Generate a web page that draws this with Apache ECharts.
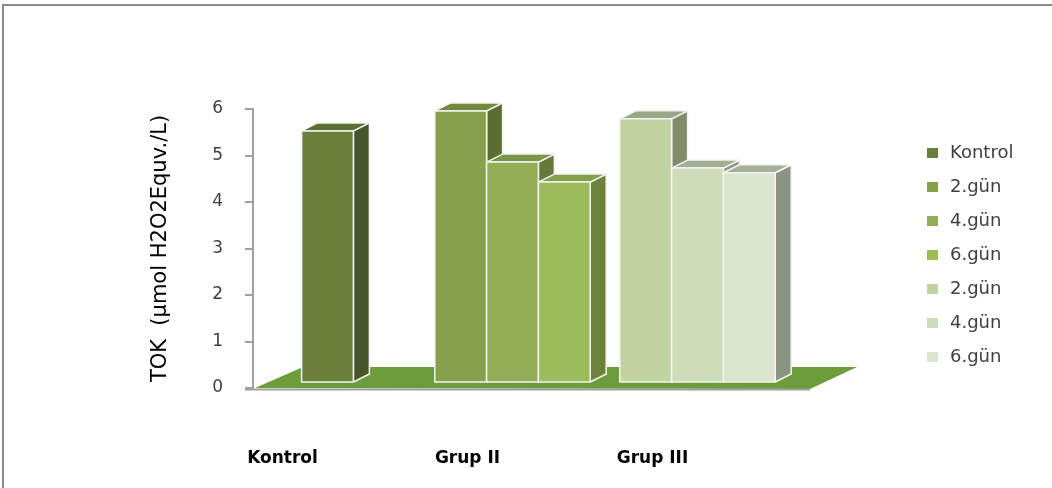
<!DOCTYPE html>
<html>
<head>
<meta charset="utf-8">
<script src="https://cdn.jsdelivr.net/npm/echarts@6/dist/echarts.min.js"></script>
<style>
    html, body { margin: 0; padding: 0; background: #fff; }
    #chart { width: 1052px; height: 488px; }
</style>
</head>
<body>
<div id="chart"></div>
<script>
// data
const categories = ["Kontrol", "Grup II", "Grup III"];
const seriesNames = ["Kontrol", "2.gün", "4.gün", "6.gün", "2.gün", "4.gün", "6.gün"];
const seriesGroup = [0, 1, 1, 1, 2, 2, 2];
const seriesValues = [5.4, 5.83, 4.73, 4.3, 5.66, 4.6, 4.5];
const yTicks = [0, 1, 2, 3, 4, 5, 6];

// colours of each bar: front / top / side
const palette = [
    { front: "#6a803a", top: "#5b6f32", side: "#46552a" },
    { front: "#87a04b", top: "#718a3e", side: "#5a6e31" },
    { front: "#94ae57", top: "#7a9545", side: "#66793a" },
    { front: "#9dbb59", top: "#83a046", side: "#6c823a" },
    { front: "#c1d3a1", top: "#9aa784", side: "#7f8b69" },
    { front: "#cfdcba", top: "#a3ae93", side: "#8c9682" },
    { front: "#dbe4cd", top: "#a6af98", side: "#8b9381" },
];

const FONT = "DejaVu Sans";
const DX = 16, DY = -8, LIFT = 6;

// position of a bar inside its group
function slotOf(i) {
    let n = 0, k = 0;
    seriesGroup.forEach((g, j) => {
        if (g === seriesGroup[i]) {
            if (j < i) k++;
            n++;
        }
    });
    return { k: k, n: n };
}

function makeRender(i) {
    const s = slotOf(i);
    const c = palette[i];
    return function (params, api) {
        const band = api.size([1, 0])[0];
        const w = band * 0.28;
        const base = api.coord([api.value(0), 0]);
        const top = api.coord([api.value(0), api.value(1)]);
        const cx = base[0] + (s.k - (s.n - 1) / 2) * w;
        const x0 = cx - w / 2, x1 = cx + w / 2;
        const yb = base[1] - LIFT, yt = top[1] - LIFT;
        const edge = { stroke: "#f4f4f4", lineWidth: 1.5, lineJoin: "round" };
        return {
            type: "group",
            children: [
                {
                    type: "polygon",
                    shape: { points: [[x1, yt], [x1 + DX, yt + DY], [x1 + DX, yb + DY], [x1, yb]] },
                    style: Object.assign({ fill: c.side }, edge),
                },
                {
                    type: "polygon",
                    shape: { points: [[x0, yt], [x1, yt], [x1 + DX, yt + DY], [x0 + DX, yt + DY]] },
                    style: Object.assign({ fill: c.top }, edge),
                },
                {
                    type: "rect",
                    shape: { x: x0, y: yt, width: w, height: yb - yt },
                    style: Object.assign({ fill: c.front }, edge),
                },
            ],
        };
    };
}

const series = seriesNames.map((name, i) => ({
    name: (i > 0 ? categories[seriesGroup[i]] + " " : "") + name,
    type: "custom",
    renderItem: makeRender(i),
    itemStyle: { color: palette[i].front },
    data: [[categories[seriesGroup[i]], seriesValues[i]]],
    z: 3,
}));

const option = {
    animation: false,
    backgroundColor: "#fff",
    grid: { left: 235, right: 262, top: 109, bottom: 100 },
    legend: {
        orient: "vertical",
        left: 922,
        top: 139,
        icon: "rect",
        itemWidth: 11,
        itemHeight: 10,
        itemGap: 16,
        formatter: (name) => name.replace(/^Grup I+ /, ""),
        textStyle: { fontFamily: FONT, fontSize: 18, lineHeight: 18, color: "#404040", padding: [0, 0, 0, 7] },
        data: series.map((s) => s.name),
    },
    xAxis: {
        type: "category",
        data: categories,
        axisLine: { show: false },
        axisTick: { show: false },
        splitLine: { show: false },
        axisLabel: {
            margin: 62,
            padding: [0, 90, 0, 0],
            fontFamily: FONT,
            fontSize: 17,
            fontWeight: "bold",
            color: "#000",
        },
    },
    yAxis: {
        type: "value",
        min: yTicks[0],
        max: yTicks[yTicks.length - 1],
        interval: 1,
        offset: -18,
        name: "TOK  (µmol H2O2Equv./L)",
        nameLocation: "middle",
        nameGap: 82,
        nameTextStyle: { fontFamily: FONT, fontSize: 21, color: "#000" },
        axisLine: { show: true, lineStyle: { color: "#a0a0a0", width: 2 } },
        axisTick: { show: true, length: 8, lineStyle: { color: "#a0a0a0", width: 2 } },
        splitLine: { show: false },
        axisLabel: { margin: 30, fontFamily: FONT, fontSize: 17, color: "#404040" },
    },
    graphic: [
        {
            type: "polyline",
            shape: { points: [[3, 488], [3, 5], [1052, 5]] },
            style: { stroke: "#8a8a8a", lineWidth: 2, fill: null },
            z: 0,
        },
        {
            type: "polygon",
            shape: { points: [[255, 388], [810, 389], [857, 367], [303, 367]] },
            style: { fill: "#6b9e3a" },
            z: 0,
        },
        {
            type: "line",
            shape: { x1: 245, y1: 389.5, x2: 810, y2: 389.5 },
            style: { stroke: "#a0a0a0", lineWidth: 2 },
            z: 0,
        },
    ],
    series: series,
};

const chart = echarts.init(document.getElementById("chart"));
chart.setOption(option);
window.addEventListener("resize", () => chart.resize());
</script>
</body>
</html>
